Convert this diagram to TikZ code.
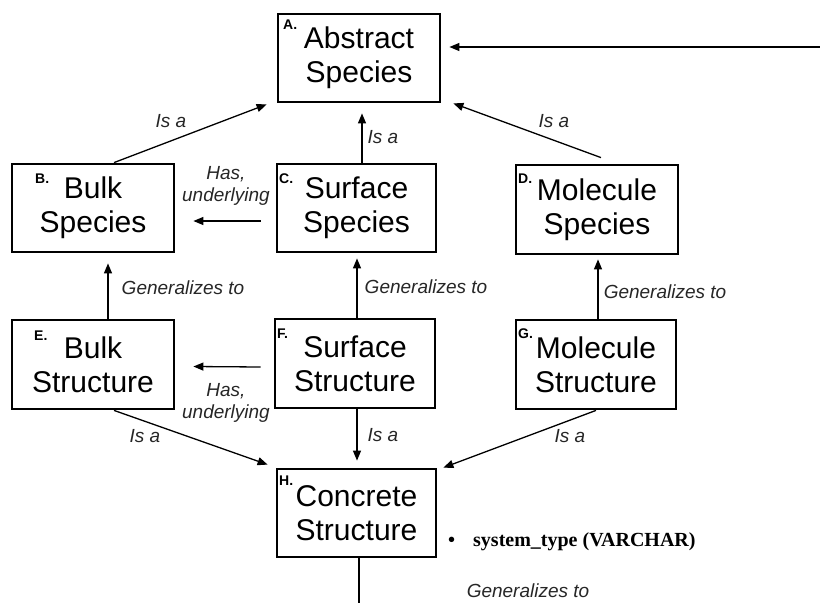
\documentclass[tikz,border=0pt]{standalone}
\usepackage{fontspec}
\setmainfont{Liberation Sans}
\newfontfamily\timesfont{Liberation Serif}
\usetikzlibrary{arrows.meta,calc}
\tikzset{
  box/.style={draw, line width=2.8pt, inner sep=0pt, align=center,
    font=\fontsize{30}{34}\selectfont},
  letter/.style={anchor=base west, inner sep=0pt, font=\bfseries\fontsize{14}{14}\selectfont},
  conn/.style={line width=1.3pt, -{Triangle[length=10pt,width=8pt]}},
  lbl/.style={inner sep=0pt, text=black!85, align=center, font=\itshape\fontsize{19}{22}\selectfont},
}
\begin{document}
\begin{tikzpicture}[x=1pt,y=-1pt]
\useasboundingbox (0,0) rectangle (820,603);
% boxes
\node[box, minimum width=162pt, minimum height=88pt] (A) at (359,58) {Abstract\\Species};
\node[box, minimum width=162pt, minimum height=88pt] (B) at (93,208) {Bulk\\Species};
\node[box, minimum width=159pt, minimum height=88pt] (C) at (356.5,208) {Surface\\Species};
\node[box, minimum width=162pt, minimum height=89pt] (D) at (597,209.5) {Molecule\\Species};
\node[box, minimum width=162pt, minimum height=89pt] (E) at (93,364.5) {Bulk\\Structure};
\node[box, minimum width=160pt, minimum height=89pt] (F) at (355,363.5) {Surface\\Structure};
\node[box, minimum width=160pt, minimum height=89pt] (G) at (596,364.5) {Molecule\\Structure};
\node[box, minimum width=159pt, minimum height=88pt] (H) at (356.5,513) {Concrete\\Structure};
% letters
\node[letter] (lA) at (283,29) {A.};
\node[letter] (lB) at (35,183) {B.};
\node[letter] (lC) at (279,183) {C.};
\node[letter] (lD) at (518,183) {D.};
\node[letter] (lE) at (34,340) {E.};
\node[letter] (lF) at (277,338) {F.};
\node[letter] (lG) at (518,338) {G.};
\node[letter] (lH) at (279,485) {H.};
% free ends
\coordinate (inR) at (820,47);
\coordinate (bot) at (359,603);
% connectors
\draw[conn] (inR) -- ($(A.east |- inR)+(8,0)$);
\draw[conn] ($(B.north)+(21,0)$) -- ($(A.south west)+(-10,1)$);
\draw[conn] ($(C.north)+(5.5,0)$) -- ($(A.south)+(3,10)$);
\draw[conn] ($(D.north)+(4,-6)$) -- ($(A.south east)+(12,0)$);
\draw[conn] ($(C.west)+(-15,13)$) -- ($(B.east)+(18,13)$);
\draw[conn] ($(F.west)+(-13,3.5)$) -- ($(E.east)+(18,2)$);
\draw[conn] ($(E.north)+(15,0)$) -- ($(B.south)+(15,10)$);
\draw[conn] ($(F.north)+(2,0)$) -- ($(C.south)+(0.5,5)$);
\draw[conn] ($(G.north)+(2,0)$) -- ($(D.south)+(1,4)$);
\draw[conn] ($(E.south)+(21,0)$) -- ($(H.north west)+(-8,-3)$);
\draw[conn] ($(F.south)+(2,0)$) -- ($(H.north)+(0.5,-7)$);
\draw[conn] ($(G.south)+(0,0)$) -- ($(H.north east)+(6,0)$);
\draw[line width=1.3pt] (H.south -| bot) -- (bot);
% labels
\node[lbl] (t1) at (171,121) {Is a};
\node[lbl] (t2) at (383,137) {Is a};
\node[lbl] (t3) at (554,121) {Is a};
\node[lbl] (t4) at (226,186) {Has,\\underlying};
\node[lbl] (t5) at (226,403) {Has,\\underlying};
\node[lbl] (t6) at (183,288) {Generalizes to};
\node[lbl] (t7) at (426,287) {Generalizes to};
\node[lbl] (t8) at (665,292) {Generalizes to};
\node[lbl] (t9) at (145,436) {Is a};
\node[lbl] (t10) at (383,435) {Is a};
\node[lbl] (t11) at (570,436) {Is a};
\node[lbl] (t12) at (528,591) {Generalizes to};
\node[inner sep=0pt, anchor=base west, font=\timesfont\bfseries\fontsize{20}{20}\selectfont] (st) at (448,546) {•\hspace{18pt}system\_type (VARCHAR)};
\end{tikzpicture}
\end{document}
